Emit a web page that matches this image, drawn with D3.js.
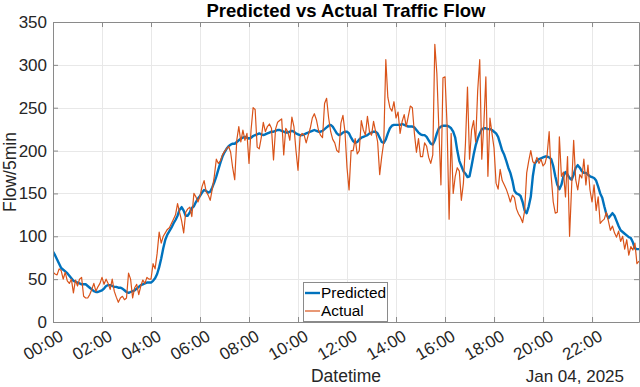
<!DOCTYPE html>
<html>
<head>
<meta charset="utf-8">
<script src="https://cdn.jsdelivr.net/npm/d3@7"></script>
<style>
  body { margin: 0; background: #fff; }
  svg { display: block; font-family: "Liberation Sans", Arial, Helvetica, sans-serif; }
</style>
</head>
<body>
<div id="chart"></div>
<script>
// 5-minute samples for Jan 04, 2025, 00:00 .. 23:55
var predicted = [
  82,78,73,68,63,61,59,57,54,51,48,47,
  46,45,44,44,44,42,40,38,36,35,35,36,
  37,39,42,43,43,42,41,41,40,40,39,37,
  35,34,35,36,37,39,41,43,44,45,46,46,
  46,48,51,56,64,74,86,96,102,106,110,115,
  119,124,131,134,130,124,124,128,133,135,140,144,
  147,151,154,153,151,152,157,163,170,178,186,193,
  198,202,205,207,208,208,210,212,214,215,216,215,
  214,215,217,218,219,220,219,218,219,220,221,222,
  222,223,224,224,223,222,221,221,222,223,222,220,
  219,218,218,219,220,221,222,223,224,223,222,222,
  223,225,227,229,230,228,224,220,218,219,221,222,
  222,220,215,211,209,210,213,215,216,217,218,220,
  221,222,222,220,215,210,209,213,220,226,229,230,
  230,230,230,231,230,229,228,228,228,227,224,221,
  219,218,218,216,212,208,207,212,220,226,228,229,
  229,229,228,226,222,215,200,188,182,176,173,169,
  170,182,195,206,214,220,225,226,226,225,225,224,
  222,220,216,208,200,195,188,180,174,165,153,150,
  149,147,140,130,127,135,146,170,185,188,190,191,
  192,193,193,192,190,182,170,160,155,160,170,175,
  172,168,166,172,180,183,180,176,174,174,172,170,
  169,168,165,158,150,145,135,126,121,124,127,124,
  118,112,107,105,103,101,99,98,93,86,85,85
];

var actual = [
  58,56,55,62,60,50,58,48,45,50,34,49,
  42,50,52,30,28,28,32,38,45,36,41,45,
  52,44,50,45,38,50,36,29,23,28,30,26,
  28,57,50,28,40,44,32,42,49,45,52,50,
  50,68,62,80,105,92,100,104,108,110,115,120,
  125,138,128,118,104,128,132,134,123,150,146,140,
  147,158,165,152,148,142,155,170,190,185,188,195,
  199,202,205,198,180,166,212,228,210,224,212,220,
  185,224,250,248,204,202,215,233,222,228,231,226,
  189,225,233,235,237,195,226,222,212,239,228,200,
  177,216,220,218,209,218,226,238,243,236,224,218,
  215,255,261,238,222,213,209,200,198,232,241,222,
  180,154,200,200,214,196,200,235,224,218,240,222,
  218,234,222,210,172,193,210,306,262,250,246,257,
  238,245,220,234,242,228,240,252,250,220,198,214,
  193,193,209,205,192,185,195,324,290,224,160,285,
  286,230,120,220,150,170,180,176,142,162,208,274,
  190,224,235,210,270,306,190,230,286,170,238,220,
  203,162,155,178,165,160,155,148,140,148,145,132,
  126,122,116,130,174,188,200,187,185,192,185,190,
  182,185,195,222,170,140,127,128,216,170,175,146,
  193,100,158,212,166,154,172,168,190,160,183,154,
  140,160,130,146,115,118,120,128,118,107,112,104,
  99,106,94,100,85,96,78,88,84,92,68,71
];

var seriesNames = ["Predicted", "Actual"];
var seriesColors = ["#0072BD", "#D95319"];
var yTicks = [0, 50, 100, 150, 200, 250, 300, 350];
var xTickHours = [0, 2, 4, 6, 8, 10, 12, 14, 16, 18, 20, 22];
var dayStart = new Date(2025, 0, 4, 0, 0);
var stepMinutes = 5;

(function() {
  var width = 640, height = 387;
  var plotLeft = 53, plotRight = 639, plotTop = 22, plotBottom = 322;

  var times = predicted.map(function(d, i) {
    return d3.timeMinute.offset(dayStart, i * stepMinutes);
  });

  var x = d3.scaleTime().domain([times[0], times[times.length - 1]]).range([plotLeft, plotRight]);
  var y = d3.scaleLinear().domain([0, 350]).range([plotBottom, plotTop]);

  var xTickDates = xTickHours.map(function(h) { return d3.timeHour.offset(dayStart, h); });

  var svg = d3.select("#chart").append("svg")
    .attr("width", width)
    .attr("height", height);

  svg.append("defs").append("clipPath").attr("id", "clip")
    .append("rect")
    .attr("x", plotLeft).attr("y", plotTop)
    .attr("width", plotRight - plotLeft).attr("height", plotBottom - plotTop);

  // grid
  var grid = svg.append("g").attr("stroke", "#e8e8e8").attr("stroke-width", 1).attr("shape-rendering", "crispEdges");
  grid.selectAll(".vg").data(xTickDates).enter().append("line")
    .attr("x1", function(d) { return Math.round(x(d)) + 0.5; })
    .attr("x2", function(d) { return Math.round(x(d)) + 0.5; })
    .attr("y1", plotTop).attr("y2", plotBottom);
  grid.selectAll(".hg").data(yTicks).enter().append("line")
    .attr("x1", plotLeft).attr("x2", plotRight)
    .attr("y1", function(d) { return Math.round(y(d)) + 0.5; })
    .attr("y2", function(d) { return Math.round(y(d)) + 0.5; });

  // lines
  var line = d3.line()
    .x(function(d, i) { return x(times[i]); })
    .y(function(d) { return y(d); });

  var plot = svg.append("g").attr("clip-path", "url(#clip)");
  plot.append("path").datum(predicted)
    .attr("fill", "none").attr("stroke", seriesColors[0])
    .attr("stroke-width", 2.4).attr("stroke-linejoin", "round")
    .attr("d", line);
  plot.append("path").datum(actual)
    .attr("fill", "none").attr("stroke", seriesColors[1])
    .attr("stroke-width", 1.2).attr("stroke-linejoin", "round")
    .attr("d", line);

  // axes
  function styleAxis(g) {
    g.selectAll(".domain").attr("stroke", "#8a8a8a");
    g.selectAll(".tick line").attr("stroke", "#8a8a8a");
    g.selectAll("text").attr("fill", "#262626").style("font-size", "17px")
      .style("font-family", "'Liberation Sans', Arial, sans-serif");
  }

  var xAxis = svg.append("g")
    .attr("transform", "translate(0," + plotBottom + ")")
    .call(d3.axisBottom(x).tickValues(xTickDates).tickFormat(d3.timeFormat("%H:%M"))
      .tickSizeInner(-5).tickSizeOuter(0))
    .call(styleAxis);
  xAxis.selectAll("text")
    .attr("text-anchor", "end")
    .attr("y", 0).attr("dy", "0.71em")
    .attr("transform", "translate(5,7) rotate(-30)");

  svg.append("g")
    .attr("transform", "translate(" + plotLeft + ",0)")
    .call(d3.axisLeft(y).tickValues(yTicks).tickSizeInner(-5).tickSizeOuter(0).tickPadding(6))
    .call(styleAxis);

  svg.append("g")
    .attr("transform", "translate(0," + plotTop + ")")
    .call(d3.axisTop(x).tickValues(xTickDates).tickFormat("").tickSizeInner(-5).tickSizeOuter(0))
    .call(styleAxis);

  svg.append("g")
    .attr("transform", "translate(" + plotRight + ",0)")
    .call(d3.axisRight(y).tickValues(yTicks).tickFormat("").tickSizeInner(-5).tickSizeOuter(0))
    .call(styleAxis);

  // labels
  svg.append("text")
    .attr("x", (plotLeft + plotRight) / 2).attr("y", 17)
    .attr("text-anchor", "middle")
    .style("font-size", "18.5px").style("font-weight", "bold")
    .attr("fill", "#000")
    .text("Predicted vs Actual Traffic Flow");

  svg.append("text")
    .attr("x", (plotLeft + plotRight) / 2).attr("y", 382)
    .attr("text-anchor", "middle")
    .style("font-size", "17.5px").attr("fill", "#262626")
    .text("Datetime");

  svg.append("text")
    .attr("x", 624).attr("y", 382)
    .attr("text-anchor", "end")
    .style("font-size", "17px").attr("fill", "#262626")
    .text(d3.timeFormat("%b %d, %Y")(dayStart));

  svg.append("text")
    .attr("transform", "translate(16," + (plotTop + plotBottom) / 2 + ") rotate(-90)")
    .attr("text-anchor", "middle")
    .style("font-size", "17.5px").attr("fill", "#262626")
    .text("Flow/5min");

  // legend
  var legend = svg.append("g").attr("transform", "translate(303,282)");
  legend.append("rect")
    .attr("x", 0.5).attr("y", 0.5).attr("width", 84).attr("height", 39)
    .attr("fill", "#fff").attr("stroke", "#8a8a8a").attr("stroke-width", 1);
  seriesNames.forEach(function(name, i) {
    var ly = 11 + i * 18;
    legend.append("line")
      .attr("x1", 2).attr("x2", 17).attr("y1", ly).attr("y2", ly)
      .attr("stroke", seriesColors[i]).attr("stroke-width", i === 0 ? 2.4 : 1.2);
    legend.append("text")
      .attr("x", 18).attr("y", ly).attr("dy", "0.35em")
      .style("font-size", "15.4px").attr("fill", "#000")
      .text(name);
  });
})();
</script>
</body>
</html>
